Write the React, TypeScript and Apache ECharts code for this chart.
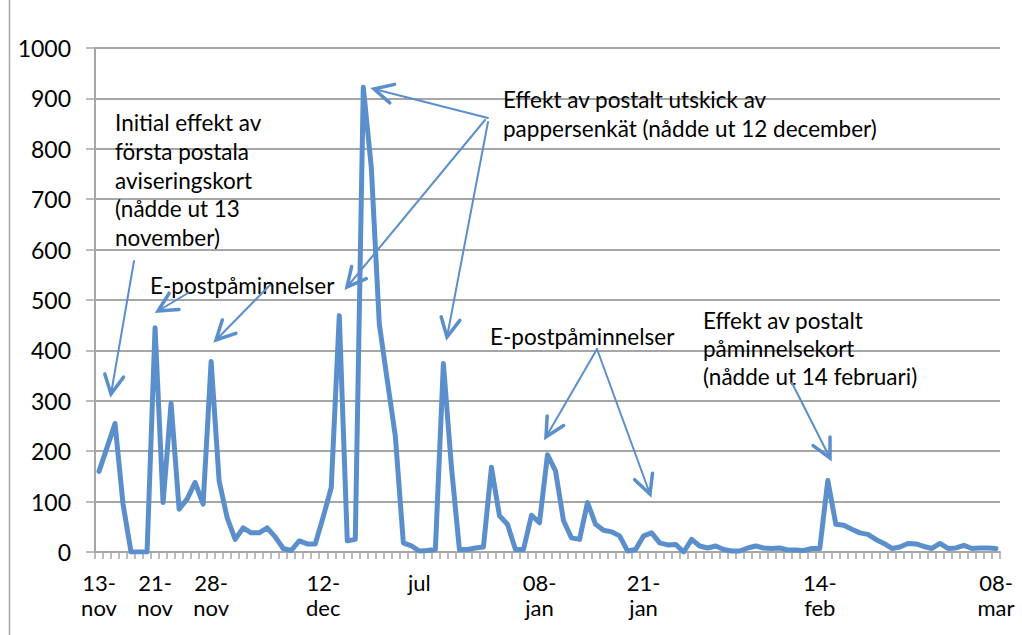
import React, { useEffect, useRef } from "react";
import * as echarts from "echarts";

// Daily responses (13 nov – 08 mar)
const values: number[] = [
  160, 207, 255, 95, 0, 0, 0, 445, 98, 295,
  85, 105, 138, 95, 378, 141, 68, 25, 48, 38,
  38, 48, 30, 7, 3, 22, 16, 16, 70, 128,
  469, 22, 25, 922, 763, 452, 340, 230, 18, 12,
  2, 3, 5, 374, 170, 5, 5, 8, 10, 168,
  72, 55, 5, 5, 73, 58, 193, 161, 62, 28,
  25, 98, 55, 43, 40, 32, 2, 5, 32, 38,
  18, 14, 15, 0, 25, 12, 8, 12, 5, 2,
  2, 8, 12, 8, 7, 8, 4, 4, 3, 7,
  7, 142, 55, 53, 45, 38, 35, 25, 17, 7,
  10, 17, 16, 11, 7, 17, 7, 8, 13, 7,
  8, 8, 7,
];

// Category positions that carry a visible tick label
const labelIndex: number[] = [0, 7, 14, 28, 40, 55, 68, 90, 112];
const labelText: string[] = [
  "13-\nnov", "21-\nnov", "28-\nnov", "12-\ndec", "jul",
  "08-\njan", "21-\njan", "14-\nfeb", "08-\nmar",
];
const categories: string[] = values.map((_, i) => {
  const k = labelIndex.indexOf(i);
  return k >= 0 ? labelText[k] : "";
});

const yTicks = { min: 0, max: 1000, interval: 100 };

const FONT = "Lato";
const BLUE = "#5B8FCB";
const GRAY = "#a6a6a6";

const annotations = [
  { x: 115, y: 180, lh: 28.6, text: "Initial effekt av\nförsta postala\naviseringskort\n(nådde ut 13\nnovember)" },
  { x: 150, y: 285, lh: 28, text: "E-postpåminnelser" },
  { x: 503, y: 114, lh: 28.5, text: "Effekt av postalt utskick av\npappersenkät (nådde ut 12 december)" },
  { x: 490, y: 336, lh: 28, text: "E-postpåminnelser" },
  { x: 703, y: 348, lh: 28, text: "Effekt av postalt\npåminnelsekort\n(nådde ut 14 februari)" },
];

const arrows: [number, number, number, number][] = [
  [134, 261, 111, 394],
  [188, 293, 158, 311],
  [270, 285, 216, 340],
  [488, 118, 374, 89],
  [485, 120, 347, 287],
  [488, 122, 447, 337],
  [597, 349, 546, 437],
  [597, 349, 650, 494],
  [792, 383, 830, 458],
];

function arrowElems(a: [number, number, number, number]) {
  const [x1, y1, x2, y2] = a;
  const back = Math.atan2(y1 - y2, x1 - x2);
  const L = 21;
  const d = 0.47;
  const w1 = [x2 + L * Math.cos(back - d), y2 + L * Math.sin(back - d)];
  const w2 = [x2 + L * Math.cos(back + d), y2 + L * Math.sin(back + d)];
  return [
    { type: "line", shape: { x1, y1, x2, y2 }, style: { stroke: BLUE, lineWidth: 2, lineCap: "round" }, z: 100 },
    {
      type: "polyline",
      shape: { points: [w1, [x2, y2], w2] },
      style: { stroke: BLUE, lineWidth: 3.5, lineCap: "round", lineJoin: "miter", fill: null },
      z: 100,
    },
  ];
}

export default function App() {
  const ref = useRef<HTMLDivElement>(null);
  useEffect(() => {
    if (!ref.current) return;
    const chart = echarts.init(ref.current, undefined, { renderer: "svg" });
    const graphics: any[] = [
      { type: "line", shape: { x1: 9.5, y1: 0, x2: 9.5, y2: 635 }, style: { stroke: GRAY, lineWidth: 1.5 } },
    ];
    annotations.forEach((a) =>
      graphics.push({
        type: "text",
        x: a.x,
        y: a.y,
        z: 100,
        style: {
          text: a.text,
          fill: "#000",
          fontFamily: FONT,
          fontSize: 22.5,
          lineHeight: a.lh,
          align: "left",
          verticalAlign: "middle",
        },
      })
    );
    arrows.forEach((a) => graphics.push(...arrowElems(a)));

    chart.setOption({
      animation: false,
      backgroundColor: "#fff",
      grid: { left: 95, right: 22, top: 48, bottom: 83, containLabel: false },
      xAxis: {
        type: "category",
        data: categories,
        boundaryGap: true,
        axisLine: { show: true, lineStyle: { color: GRAY, width: 2 } },
        axisTick: { show: true, interval: 0, length: 7, lineStyle: { color: GRAY, width: 1.5 } },
        axisLabel: {
          interval: 0,
          margin: 18,
          color: "#000",
          fontFamily: FONT,
          fontSize: 22,
          lineHeight: 25,
          align: "center",
        },
        splitLine: { show: false },
      },
      yAxis: {
        type: "value",
        min: yTicks.min,
        max: yTicks.max,
        interval: yTicks.interval,
        axisLine: { show: true, lineStyle: { color: GRAY, width: 2 } },
        axisTick: { show: true, length: 9, lineStyle: { color: GRAY, width: 1.5 } },
        axisLabel: {
          margin: 24,
          color: "#000",
          fontFamily: FONT,
          fontSize: 23,
          formatter: (v: number) => String(v),
        },
        splitLine: { show: true, lineStyle: { color: GRAY, width: 2 } },
      },
      series: [
        {
          type: "line",
          data: values,
          symbol: "none",
          lineStyle: { color: BLUE, width: 5, join: "round", cap: "round" },
          z: 5,
        },
      ],
      graphic: graphics,
    });
    return () => chart.dispose();
  }, []);
  return <div ref={ref} style={{ position: "fixed", left: 0, top: 0, width: 1022, height: 635 }} />;
}
